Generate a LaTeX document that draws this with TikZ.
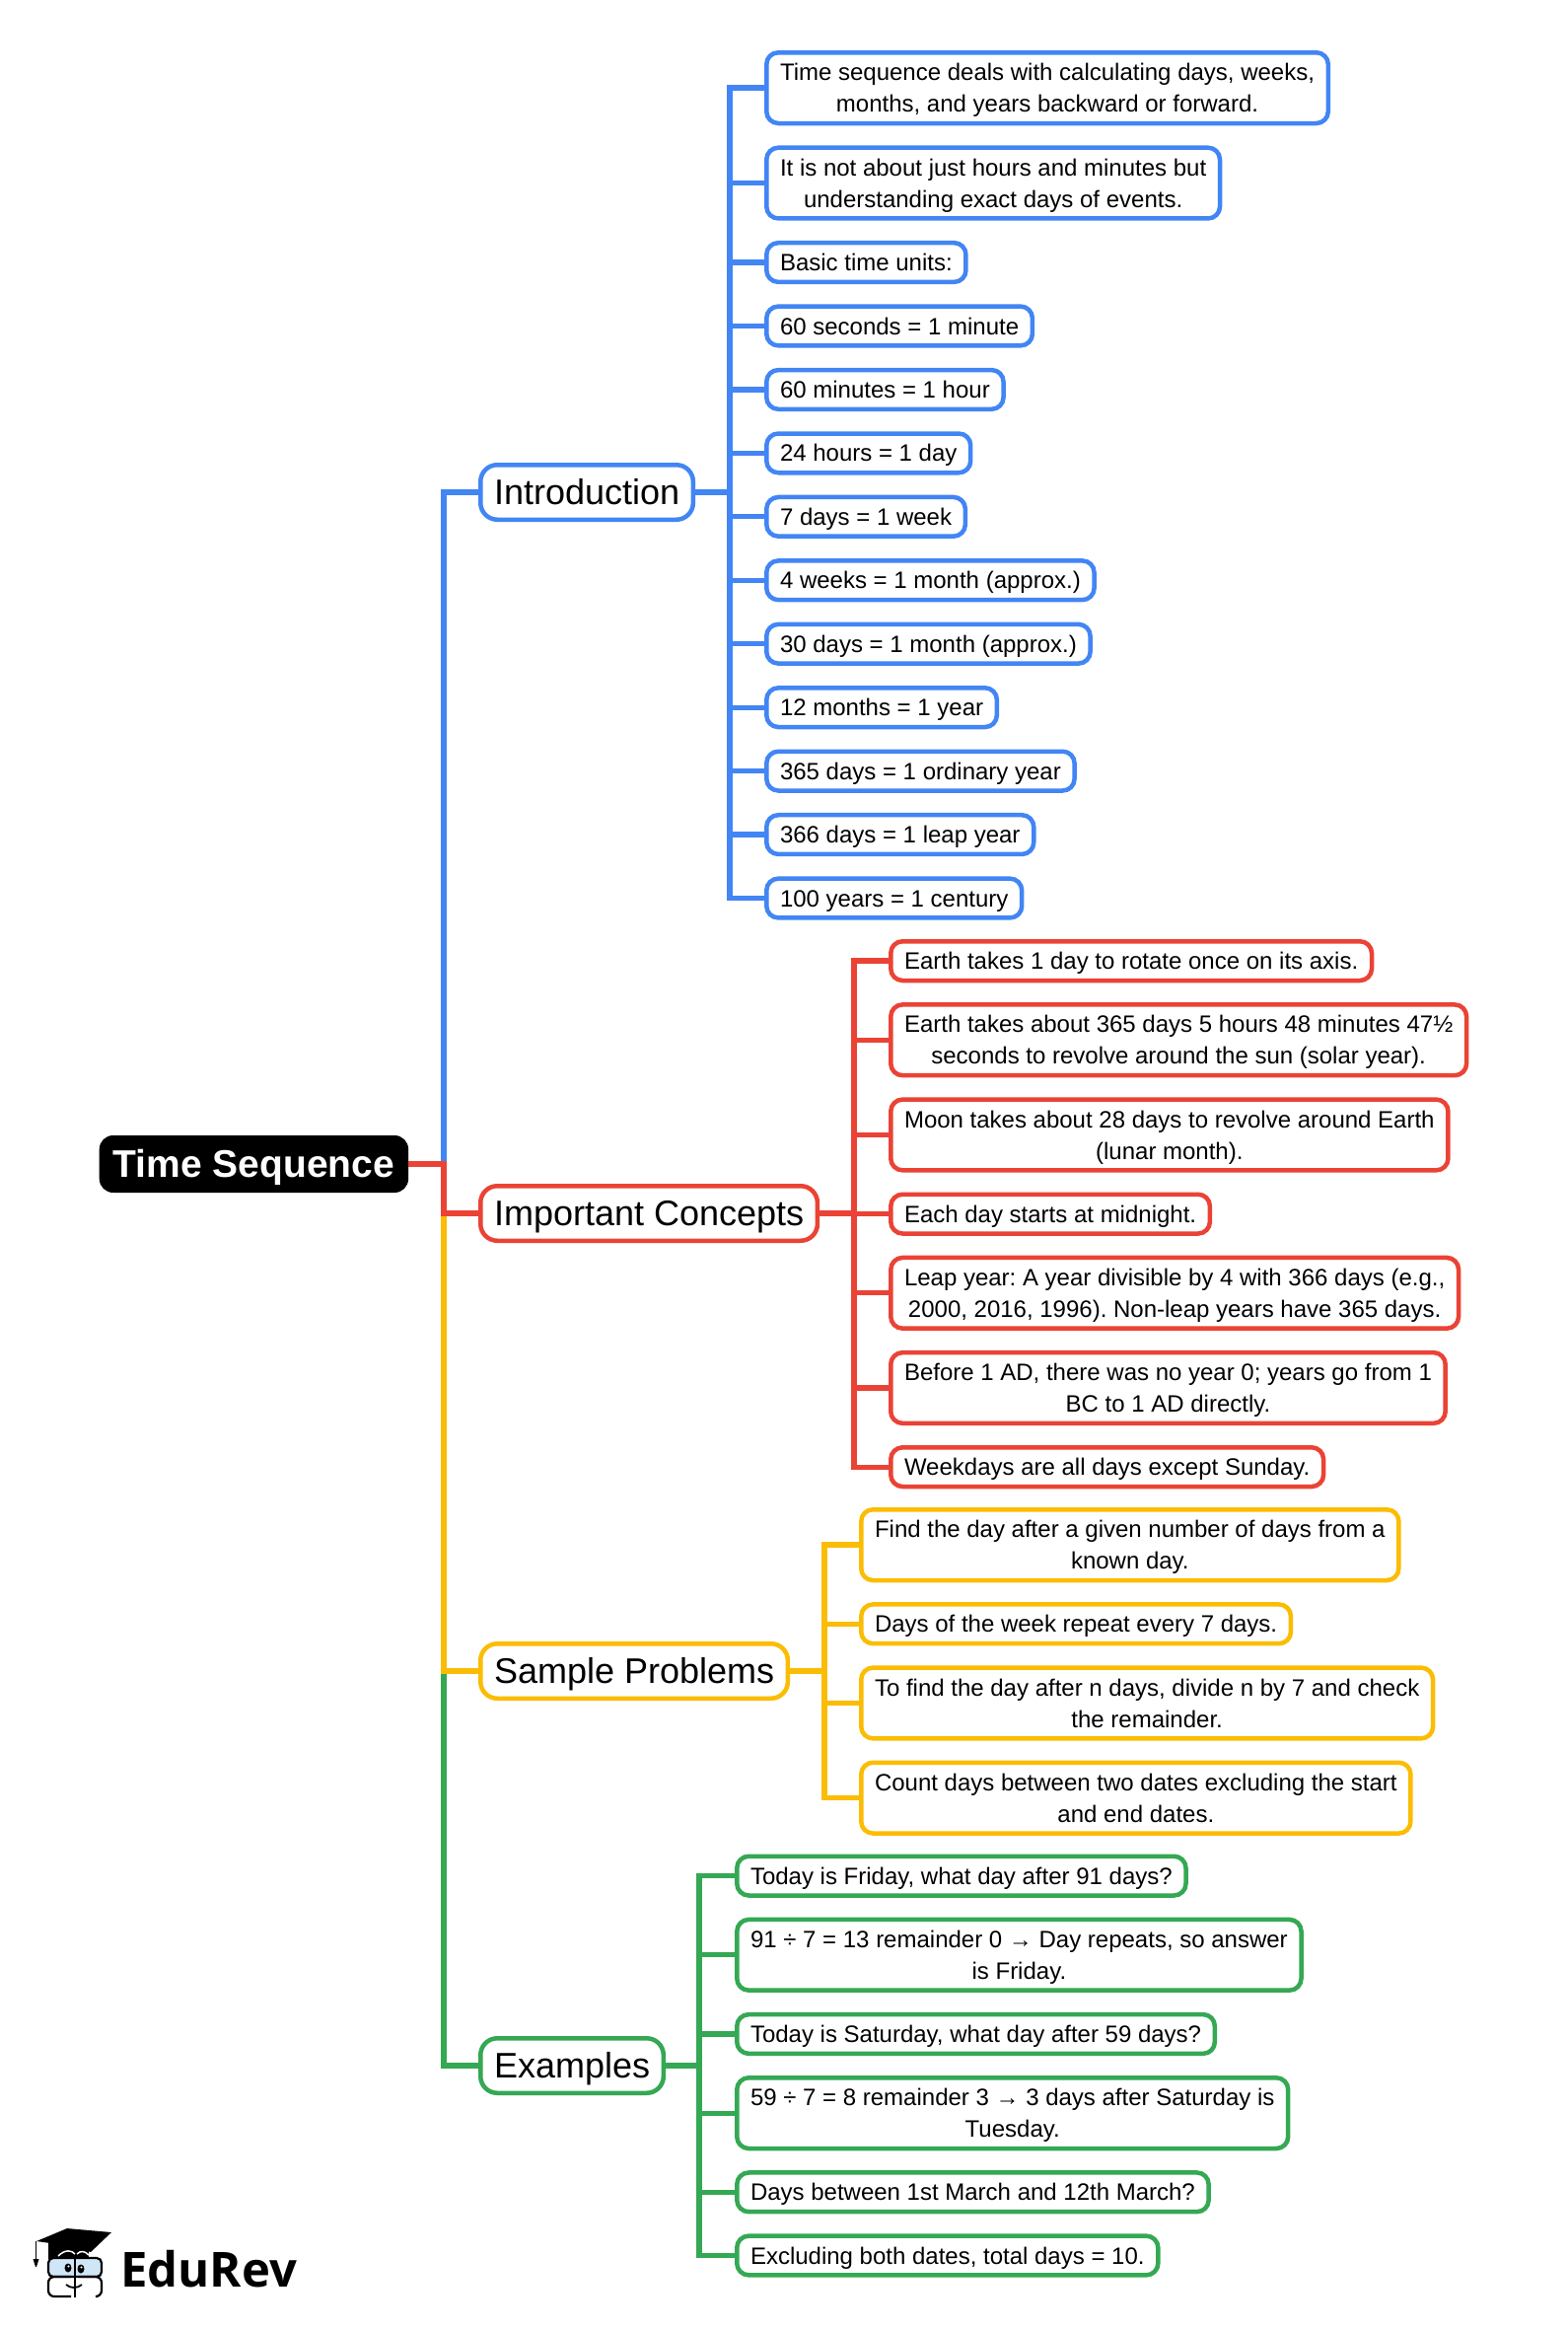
\documentclass[tikz,border=0pt]{standalone}
\usepackage{fontspec}
\setmainfont{Liberation Sans}
\newfontfamily\logofont{Open Sans}
\usetikzlibrary{positioning}
\definecolor{gblue}{HTML}{4285F4}
\definecolor{gred}{HTML}{EA4335}
\definecolor{gyellow}{HTML}{FBBC04}
\definecolor{ggreen}{HTML}{34A853}
\definecolor{lens}{HTML}{CFE6F7}
\newcommand{\st}{\rule[-7.4pt]{0pt}{32pt}}
\newcommand{\brk}{\\\st}
\newcommand{\tst}{\rule[-10.5pt]{0pt}{46pt}}

\begin{document}
\frenchspacing
\begin{tikzpicture}[x=1pt, y=-1pt, node distance={19.92pt},
    box/.style = {draw, line width=4.5pt, inner xsep=13.75pt, inner ysep=3.875pt, rounded corners=12pt, align=center, font=\fontsize{24}{32}\selectfont},
    topic/.style = {box, anchor=west, minimum height=55.5pt, rounded corners=17pt, inner ysep=0pt, font=\fontsize{36}{46}\selectfont},
    under/.style = {below=of #1.south west, anchor=north west},
    first/.style = {anchor=north west},
    blueleaf/.style = {box, draw=gblue, node distance={20.2pt}}, redleaf/.style = {box, draw=gred},
    yellowleaf/.style = {box, draw=gyellow}, greenleaf/.style = {box, draw=ggreen},
    blueline/.style = {gblue, line width=5.3pt}, redline/.style = {gred, line width=5.3pt},
    yellowline/.style = {gyellow, line width=5.3pt}, greenline/.style = {ggreen, line width=5.3pt},
    stem/.style = {line width=6.5pt}]
  \useasboundingbox (0,0) rectangle (1590,2361);

  % root and topics
  \node[fill=black, text=white, rounded corners=14pt, minimum height=58pt, inner xsep=14pt, inner ysep=0pt, anchor=west, font=\fontsize{39}{46}\selectfont\bfseries] (root) at (100.5,1180) {\rule[-9.4pt]{0pt}{46.4pt}Time Sequence};
  \node[topic, draw=gblue] (intro) at (485,499) {\tst Introduction};
  \node[topic, draw=gred] (concepts) at (485,1230) {\tst Important Concepts};
  \node[topic, draw=gyellow] (problems) at (485,1694) {\tst Sample Problems};
  \node[topic, draw=ggreen] (examples) at (485,2094) {\tst Examples};

  \coordinate (rootbus) at (450,1180);
  \coordinate (introbus) at (740,499);
  \coordinate (conceptsbus) at (866,1230);
  \coordinate (problemsbus) at (836,1694);
  \coordinate (examplesbus) at (709,2094);

  % introduction
  \node[blueleaf, first] (i1) at (775,51) {\st Time sequence deals with calculating days, weeks,\brk months, and years backward or forward.};
  \node[blueleaf] (i2) [under=i1] {\st It is not about just hours and minutes but\brk understanding exact days of events.};
  \node[blueleaf] (i3) [under=i2] {\st Basic time units:};
  \node[blueleaf] (i4) [under=i3] {\st 60 seconds = 1 minute};
  \node[blueleaf] (i5) [under=i4] {\st 60 minutes = 1 hour};
  \node[blueleaf] (i6) [under=i5] {\st 24 hours = 1 day};
  \node[blueleaf] (i7) [under=i6] {\st 7 days = 1 week};
  \node[blueleaf] (i8) [under=i7] {\st 4 weeks = 1 month (approx.)};
  \node[blueleaf] (i9) [under=i8] {\st 30 days = 1 month (approx.)};
  \node[blueleaf] (i10) [under=i9] {\st 12 months = 1 year};
  \node[blueleaf] (i11) [under=i10] {\st 365 days = 1 ordinary year};
  \node[blueleaf] (i12) [under=i11] {\st 366 days = 1 leap year};
  \node[blueleaf] (i13) [under=i12] {\st 100 years = 1 century};

  % important concepts
  \node[redleaf, first] (c1) at (901,952) {\st Earth takes 1 day to rotate once on its axis.};
  \node[redleaf] (c2) [under=c1] {\st Earth takes about 365 days 5 hours 48 minutes 47½\brk seconds to revolve around the sun (solar year).};
  \node[redleaf] (c3) [under=c2] {\st Moon takes about 28 days to revolve around Earth\brk (lunar month).};
  \node[redleaf] (c4) [under=c3] {\st Each day starts at midnight.};
  \node[redleaf] (c5) [under=c4] {\st Leap year: A year divisible by 4 with 366 days (e.g.,\brk 2000, 2016, 1996). Non-leap years have 365 days.};
  \node[redleaf] (c6) [under=c5] {\st Before 1 AD, there was no year 0; years go from 1\brk BC to 1 AD directly.};
  \node[redleaf] (c7) [under=c6] {\st Weekdays are all days except Sunday.};

  % sample problems
  \node[yellowleaf, first] (p1) at (871,1528) {\st Find the day after a given number of days from a\brk known day.};
  \node[yellowleaf] (p2) [under=p1] {\st Days of the week repeat every 7 days.};
  \node[yellowleaf] (p3) [under=p2] {\st To find the day after n days, divide n by 7 and check\brk the remainder.};
  \node[yellowleaf] (p4) [under=p3] {\st Count days between two dates excluding the start\brk and end dates.};

  % examples
  \node[greenleaf, first] (e1) at (745,1879.5) {\st Today is Friday, what day after 91 days?};
  \node[greenleaf] (e2) [under=e1] {\st 91 ÷ 7 = 13 remainder 0 → Day repeats, so answer\brk is Friday.};
  \node[greenleaf] (e3) [under=e2] {\st Today is Saturday, what day after 59 days?};
  \node[greenleaf] (e4) [under=e3] {\st 59 ÷ 7 = 8 remainder 3 → 3 days after Saturday is\brk Tuesday.};
  \node[greenleaf] (e5) [under=e4] {\st Days between 1st March and 12th March?};
  \node[greenleaf] (e6) [under=e5] {\st Excluding both dates, total days = 10.};

  % connectors, red last so it lies on top
  \draw[greenline] (root.east) -- (rootbus) |- (examples.west);
  \draw[yellowline] (root.east) -- (rootbus) |- (problems.west);
  \draw[blueline] (root.east) -- (rootbus) |- (intro.west);
  \draw[redline] (root.east) -- (rootbus) |- (concepts.west);
  \draw[redline, stem] (root.east) -- (rootbus);

  \draw[blueline] (intro.east) -- (introbus) |- (i1.west);
  \draw[blueline] (intro.east) -- (introbus) |- (i2.west);
  \draw[blueline] (intro.east) -- (introbus) |- (i3.west);
  \draw[blueline] (intro.east) -- (introbus) |- (i4.west);
  \draw[blueline] (intro.east) -- (introbus) |- (i5.west);
  \draw[blueline] (intro.east) -- (introbus) |- (i6.west);
  \draw[blueline] (intro.east) -- (introbus) |- (i7.west);
  \draw[blueline] (intro.east) -- (introbus) |- (i8.west);
  \draw[blueline] (intro.east) -- (introbus) |- (i9.west);
  \draw[blueline] (intro.east) -- (introbus) |- (i10.west);
  \draw[blueline] (intro.east) -- (introbus) |- (i11.west);
  \draw[blueline] (intro.east) -- (introbus) |- (i12.west);
  \draw[blueline] (intro.east) -- (introbus) |- (i13.west);
  \draw[blueline, stem] (intro.east) -- (introbus);

  \draw[redline] (concepts.east) -- (conceptsbus) |- (c1.west);
  \draw[redline] (concepts.east) -- (conceptsbus) |- (c2.west);
  \draw[redline] (concepts.east) -- (conceptsbus) |- (c3.west);
  \draw[redline] (concepts.east) -- (conceptsbus) |- (c4.west);
  \draw[redline] (concepts.east) -- (conceptsbus) |- (c5.west);
  \draw[redline] (concepts.east) -- (conceptsbus) |- (c6.west);
  \draw[redline] (concepts.east) -- (conceptsbus) |- (c7.west);
  \draw[redline, stem] (concepts.east) -- (conceptsbus);

  \draw[yellowline] (problems.east) -- (problemsbus) |- (p1.west);
  \draw[yellowline] (problems.east) -- (problemsbus) |- (p2.west);
  \draw[yellowline] (problems.east) -- (problemsbus) |- (p3.west);
  \draw[yellowline] (problems.east) -- (problemsbus) |- (p4.west);
  \draw[yellowline, stem] (problems.east) -- (problemsbus);

  \draw[greenline] (examples.east) -- (examplesbus) |- (e1.west);
  \draw[greenline] (examples.east) -- (examplesbus) |- (e2.west);
  \draw[greenline] (examples.east) -- (examplesbus) |- (e3.west);
  \draw[greenline] (examples.east) -- (examplesbus) |- (e4.west);
  \draw[greenline] (examples.east) -- (examplesbus) |- (e5.west);
  \draw[greenline] (examples.east) -- (examplesbus) |- (e6.west);
  \draw[greenline, stem] (examples.east) -- (examplesbus);

  % logo
  \node[anchor=base west, inner sep=0pt, font=\fontsize{49}{50}\logofont\bfseries] (brand) at (122,2318) {EduRev};
  \fill (49,2274) rectangle (90,2290);
  \draw[line width=1.5pt, white] (59,2287) .. controls (66,2280) and (73,2281) .. (76,2285);
  \draw[line width=1.5pt, white] (78,2285) .. controls (82,2281) and (86,2282) .. (90,2286);
  \fill (37,2272) -- (68,2259) -- (113,2263) -- (92,2283) -- (72,2277) -- cycle;
  \draw[line width=1.3pt] (36.5,2272) -- (36.5,2290);
  \fill (33.5,2290) -- (39.5,2290) -- (37,2298) -- (36,2298) -- cycle;
  \draw[line width=2.2pt, fill=lens, rounded corners=5pt] (49,2289) rectangle (103,2308);
  \draw[line width=2.2pt, rounded corners=6pt] (72,2308) -- (49,2308) -- (49,2328) -- (72,2328);
  \draw[line width=2.2pt, rounded corners=6pt] (80,2308) -- (103,2308) -- (103,2328) -- (99,2328);
  \draw[line width=2.2pt] (76,2287) -- (76,2329);
  \fill (69,2299) ellipse (3.5 and 4.5);
  \fill (82,2300) ellipse (3.5 and 4.5);
  \fill[white] (69.5,2297.5) circle (1.2);
  \fill[white] (82.5,2298.5) circle (1.2);
  \draw[line width=1.8pt] (67,2316) .. controls (72,2320) and (78,2320) .. (83,2316);
\end{tikzpicture}
\end{document}
